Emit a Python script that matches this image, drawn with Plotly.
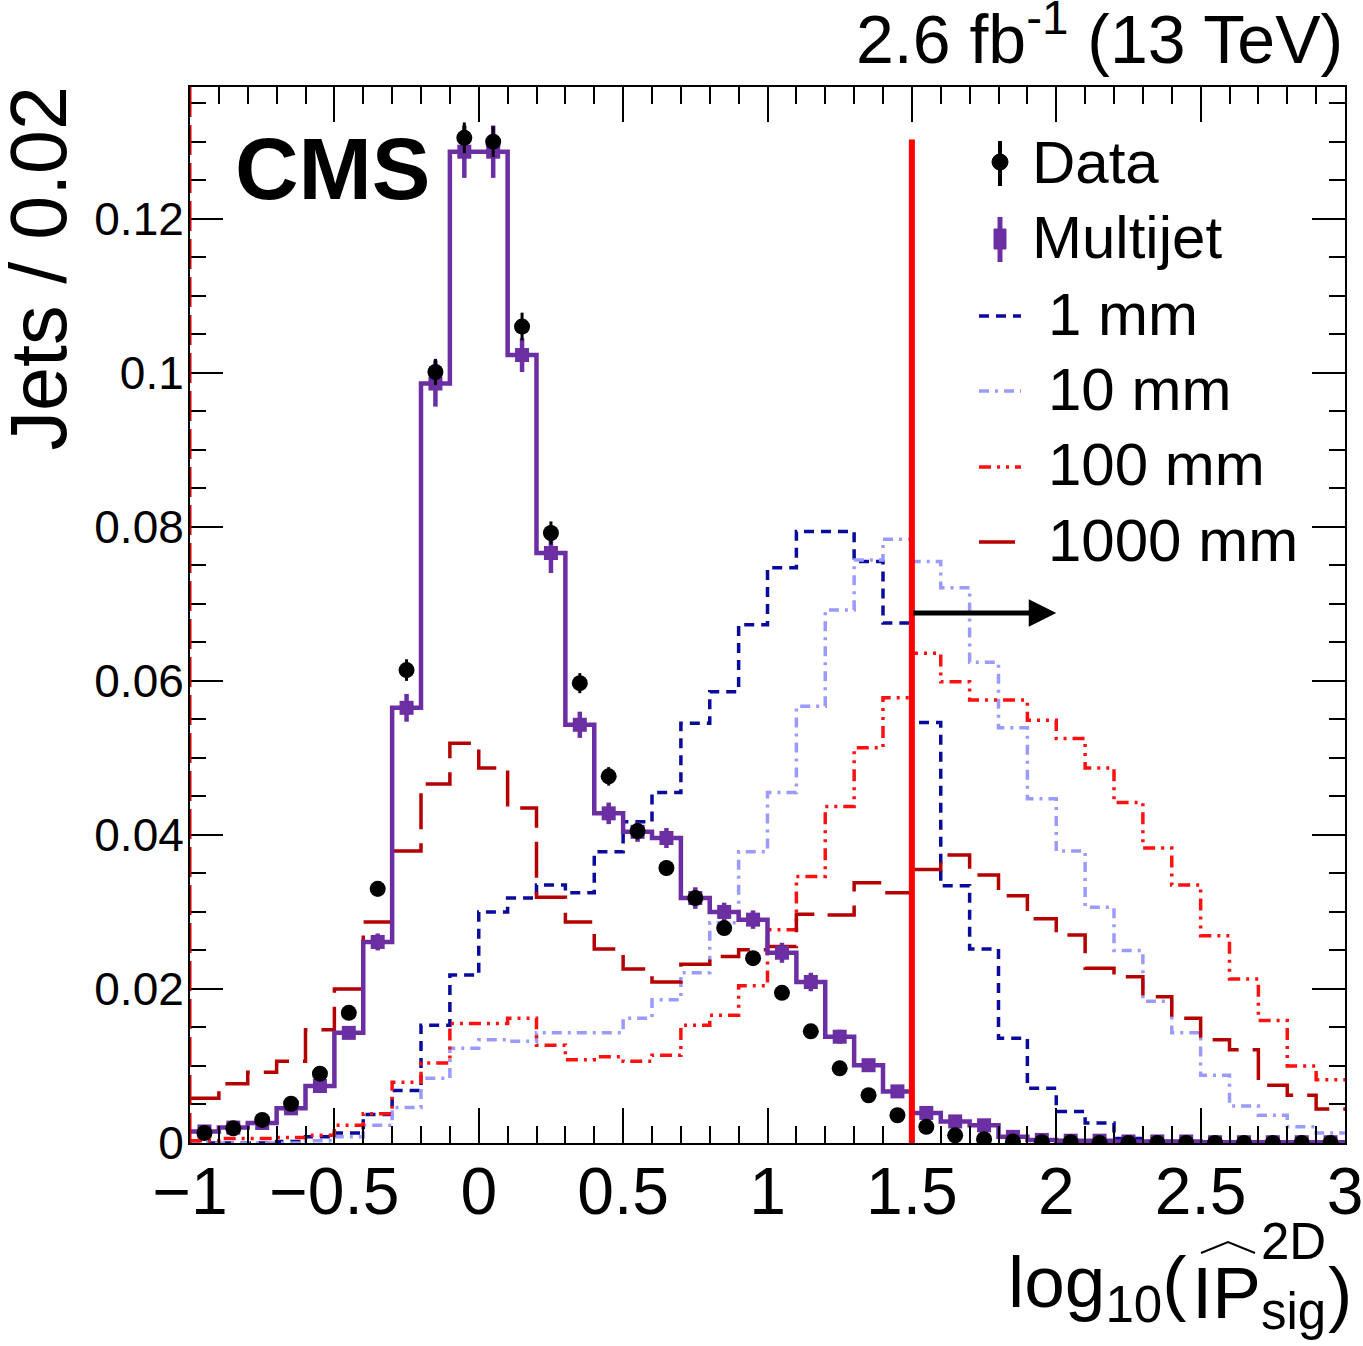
import plotly.graph_objects as go

# ---------------- data ----------------
bin_edges = [round(-1 + 0.1 * i, 1) for i in range(41)]
bin_centers = [round(-0.95 + 0.1 * i, 2) for i in range(40)]

data_vals = [0.0013, 0.0019, 0.0030, 0.0051, 0.0090, 0.0169, 0.0330, 0.0614, 0.1001, 0.1305,
             0.1300, 0.1060, 0.0792, 0.0597, 0.0476, 0.0405, 0.0357, 0.0318, 0.0279, 0.0240,
             0.0195, 0.0145, 0.0097, 0.0062, 0.0036, 0.0021, 0.0010, 0.0005, 0.0002, 0.0001,
             0.0001, 0.0, 0.0, 0.0, 0.0, 0.0, 0.0, 0.0, 0.0, 0.0]
data_err = [0.0003, 0.0003, 0.0004, 0.0005, 0.0006, 0.0008, 0.0010, 0.0014, 0.0017, 0.0020,
            0.0020, 0.0018, 0.0015, 0.0013, 0.0012, 0.0011, 0.0010, 0.0009, 0.0009, 0.0008,
            0.0007, 0.0006, 0.0005, 0.0004, 0.0003, 0.0002, 0.0002, 0.0001, 0.0001, 0.0001,
            0.0001, 0.0, 0.0, 0.0, 0.0, 0.0, 0.0, 0.0, 0.0, 0.0]

multijet_vals = [0.0015, 0.0020, 0.0026, 0.0045, 0.0074, 0.0143, 0.0261, 0.0565, 0.0986, 0.1287,
                 0.1287, 0.1023, 0.0766, 0.0543, 0.0428, 0.0404, 0.0396, 0.0318, 0.0300, 0.0290,
                 0.0247, 0.0209, 0.0138, 0.0101, 0.0067, 0.0039, 0.0028, 0.0023, 0.0008, 0.0004,
                 0.0003, 0.0003, 0.0002, 0.0002, 0.0002, 0.0001, 0.0001, 0.0001, 0.0001, 0.0001]
multijet_err = [0.0003, 0.0003, 0.0004, 0.0005, 0.0006, 0.0008, 0.0011, 0.0018, 0.0030, 0.0034,
                0.0034, 0.0022, 0.0026, 0.0017, 0.0014, 0.0013, 0.0013, 0.0014, 0.0012, 0.0012,
                0.0013, 0.0012, 0.0009, 0.0008, 0.0006, 0.0005, 0.0004, 0.0003, 0.0002, 0.0001,
                0.0001, 0.0001, 0.0001, 0.0001, 0.0001, 0.0001, 0.0001, 0.0001, 0.0001, 0.0001]

mm1_vals = [0.0, 0.0, 0.0, 0.0002, 0.0008, 0.0013, 0.0037, 0.0068, 0.0153, 0.0218,
            0.0300, 0.0318, 0.0335, 0.0325, 0.0378, 0.0417, 0.0455, 0.0545, 0.0586, 0.0673,
            0.0747, 0.0794, 0.0794, 0.0755, 0.0675, 0.0546, 0.0334, 0.0252, 0.0136, 0.0071,
            0.0041, 0.0026, 0.0006, 0.0002, 0.0001, 0.0, 0.0, 0.0, 0.0, 0.0]
mm10_vals = [0.0, 0.0, 0.0, 0.0, 0.0003, 0.0008, 0.0023, 0.0046, 0.0084, 0.0123,
             0.0134, 0.0132, 0.0143, 0.0143, 0.0143, 0.0162, 0.0186, 0.0221, 0.0286, 0.0378,
             0.0455, 0.0567, 0.0692, 0.0757, 0.0784, 0.0755, 0.0721, 0.0624, 0.0539, 0.0447,
             0.0379, 0.0306, 0.0250, 0.0184, 0.0143, 0.0088, 0.0048, 0.0036, 0.0021, 0.0013]
mm100_vals = [0.0003, 0.0006, 0.0006, 0.0007, 0.0010, 0.0023, 0.0038, 0.0079, 0.0104, 0.0155,
              0.0155, 0.0162, 0.0127, 0.0108, 0.0112, 0.0106, 0.0114, 0.0153, 0.0166, 0.0204,
              0.0277, 0.0346, 0.0437, 0.0513, 0.0578, 0.0636, 0.0599, 0.0575, 0.0575, 0.0549,
              0.0525, 0.0487, 0.0442, 0.0383, 0.0335, 0.0269, 0.0213, 0.0159, 0.0100, 0.0082]
mm1000_vals = [0.0058, 0.0077, 0.0092, 0.0106, 0.0147, 0.0200, 0.0287, 0.0379, 0.0466, 0.0519,
               0.0487, 0.0435, 0.0319, 0.0287, 0.0252, 0.0226, 0.0209, 0.0232, 0.0242, 0.0251,
               0.0255, 0.0297, 0.0296, 0.0338, 0.0325, 0.0355, 0.0374, 0.0348, 0.0321, 0.0291,
               0.0270, 0.0227, 0.0216, 0.0190, 0.0162, 0.0134, 0.0121, 0.0075, 0.0062, 0.0044]

x_tickvals = [-1, -0.5, 0, 0.5, 1, 1.5, 2, 2.5, 3]
x_ticktext = ["\u22121", "\u22120.5", "0", "0.5", "1", "1.5", "2", "2.5", "3"]
y_tickvals = [0, 0.02, 0.04, 0.06, 0.08, 0.1, 0.12]
y_ticktext = ["0", "0.02", "0.04", "0.06", "0.08", "0.1", "0.12"]

legend_labels = ["Data", "Multijet", "1 mm", "10 mm", "100 mm", "1000 mm"]

cut_x = 1.5
cut_top = 0.1303
arrow_y = 0.0688
arrow_end_x = 2.0

# ---------------- figure ----------------
FONT = "Liberation Sans, Arial, Helvetica, sans-serif"
PURPLE = "#6c2ea3"
C_1MM, C_10MM, C_100MM, C_1000MM = "#0a0a9c", "#9a9aff", "#ff1010", "#b40000"
D_1MM, D_10MM, D_100MM, D_1000MM = "10px,7px", "10px,6px,3px,6px", "12px,6px,3px,6px,3px,6px", "36px,14px"

W, H = 1363, 1346
L, R, T, B = 190, 18, 87, 203
PW, PH = W - L - R, H - T - B


def pxx(px):
    return (px - L) / PW


def pxy(py):
    return (H - B - py) / PH


def step(vals):
    return bin_edges, list(vals) + [vals[-1]]


fig = go.Figure()

signal_specs = [
    (legend_labels[2], mm1_vals, C_1MM, D_1MM),
    (legend_labels[3], mm10_vals, C_10MM, D_10MM),
    (legend_labels[4], mm100_vals, C_100MM, D_100MM),
    (legend_labels[5], mm1000_vals, C_1000MM, D_1000MM),
]
for name, vals, color, dash in signal_specs:
    xs, ys = step(vals)
    fig.add_trace(go.Scatter(
        x=xs, y=ys, mode="lines", line=dict(shape="hv", color=color, dash=dash, width=3.5),
        name=name, hoverinfo="skip"))

xs, ys = step(multijet_vals)
fig.add_trace(go.Scatter(x=xs, y=ys, mode="lines", line=dict(shape="hv", color=PURPLE, width=4.5),
                         name="Multijet hist", hoverinfo="skip"))
fig.add_trace(go.Scatter(
    x=bin_centers, y=multijet_vals, mode="markers", name=legend_labels[1],
    marker=dict(symbol="square", size=14, color=PURPLE),
    error_y=dict(type="data", array=multijet_err, color=PURPLE, thickness=4.5, width=0)))

fig.add_trace(go.Scatter(
    x=bin_centers, y=data_vals, mode="markers", name=legend_labels[0],
    marker=dict(symbol="circle", size=16, color="black"),
    error_y=dict(type="data", array=data_err, color="black", thickness=3, width=0)))

# cut line and arrow
fig.add_shape(type="line", x0=cut_x, x1=cut_x, y0=0, y1=cut_top, xref="x", yref="y",
              line=dict(color="#ff0000", width=6), layer="above")
fig.add_shape(type="line", x0=-1, x1=-1, y0=0, y1=1, xref="x", yref="paper",
              line=dict(color="#d00000", width=3, dash="30px,8px"), layer="above")
fig.add_annotation(x=arrow_end_x, y=arrow_y, ax=cut_x, ay=arrow_y, xref="x", yref="y",
                   axref="x", ayref="y", text="", showarrow=True, arrowhead=2,
                   arrowsize=1.1, arrowwidth=5, arrowcolor="black")

# ---------------- manual legend ----------------
leg_font = dict(family=FONT, size=60, color="black")
leg_rows_y = [162, 238, 314, 389, 465, 540]
leg_text_x = [1030, 1030, 1046, 1046, 1046, 1046]
for lab, yy, tx in zip(legend_labels, leg_rows_y, leg_text_x):
    fig.add_annotation(x=pxx(tx), y=pxy(yy), xref="paper", yref="paper", xanchor="left",
                       yanchor="middle", showarrow=False, text=lab, font=leg_font)
# Data symbol
fig.add_shape(type="line", xref="paper", yref="paper", x0=pxx(1000), x1=pxx(1000),
              y0=pxy(141), y1=pxy(186), line=dict(color="black", width=4))
fig.add_shape(type="circle", xref="paper", yref="paper", x0=pxx(992), x1=pxx(1008),
              y0=pxy(154), y1=pxy(170), fillcolor="black", line=dict(color="black", width=1))
# Multijet symbol
fig.add_shape(type="line", xref="paper", yref="paper", x0=pxx(1000), x1=pxx(1000),
              y0=pxy(217), y1=pxy(262), line=dict(color=PURPLE, width=5))
fig.add_shape(type="rect", xref="paper", yref="paper", x0=pxx(994), x1=pxx(1006),
              y0=pxy(229), y1=pxy(249), fillcolor=PURPLE, line=dict(color=PURPLE, width=1))
# line samples
for yy, color, dash in zip(leg_rows_y[2:], [C_1MM, C_10MM, C_100MM, C_1000MM],
                           [D_1MM, D_10MM, D_100MM, D_1000MM]):
    fig.add_shape(type="line", xref="paper", yref="paper", x0=pxx(979), x1=pxx(1021),
                  y0=pxy(yy + 2), y1=pxy(yy + 2), line=dict(color=color, width=3.5, dash=dash))

# ---------------- texts ----------------
fig.add_annotation(x=pxx(233), y=pxy(220), xref="paper", yref="paper",
                   xanchor="left", yanchor="bottom", showarrow=False,
                   text="<b>CMS</b>", font=dict(family=FONT, size=88, color="black"))
fig.add_annotation(x=1.0, y=pxy(79), xref="paper", yref="paper",
                   xanchor="right", yanchor="bottom", showarrow=False,
                   text="2.6 fb<sup>-1</sup> (13 TeV)", font=dict(family=FONT, size=68, color="black"))
fig.add_annotation(x=pxx(38), y=pxy(84), xref="paper", yref="paper",
                   xanchor="center", yanchor="top", showarrow=False, textangle=-90,
                   text="Jets / 0.02", font=dict(family=FONT, size=79, color="black"))

# x axis title (assembled)
xt_font = dict(family=FONT, size=73, color="black")
xs_font = dict(family=FONT, size=51, color="black")
fig.add_annotation(x=pxx(1189), y=pxy(1335), xref="paper", yref="paper",
                   xanchor="right", yanchor="bottom", showarrow=False,
                   text="log<sub>10</sub>(", font=xt_font)
fig.add_annotation(x=pxx(1190), y=pxy(1335), xref="paper", yref="paper",
                   xanchor="left", yanchor="bottom", showarrow=False,
                   text="IP", font=xt_font)
fig.add_annotation(x=pxx(1259), y=pxy(1272), xref="paper", yref="paper",
                   xanchor="left", yanchor="bottom", showarrow=False,
                   text="2D", font=xs_font)
fig.add_annotation(x=pxx(1259), y=pxy(1342), xref="paper", yref="paper",
                   xanchor="left", yanchor="bottom", showarrow=False,
                   text="sig", font=xs_font)
fig.add_annotation(x=pxx(1326), y=pxy(1335), xref="paper", yref="paper",
                   xanchor="left", yanchor="bottom", showarrow=False,
                   text=")", font=xt_font)
fig.add_shape(type="path", xref="paper", yref="paper",
              path=f"M {pxx(1201)} {pxy(1253)} L {pxx(1228)} {pxy(1242)} L {pxx(1255)} {pxy(1253)}",
              line=dict(color="black", width=2))

fig.update_layout(
    width=W, height=H, autosize=False,
    margin=dict(l=L, r=R, t=T, b=B, pad=0, autoexpand=False),
    paper_bgcolor="white", plot_bgcolor="white",
    showlegend=False,
    font=dict(family=FONT, color="black"),
)

fig.update_xaxes(
    range=[-1, 3], showgrid=False, zeroline=False,
    showline=True, linecolor="black", linewidth=2, mirror="allticks",
    ticks="inside", ticklen=35, tickwidth=2, tickcolor="black",
    tickvals=x_tickvals, ticktext=x_ticktext, ticklabelstandoff=-10,
    ticklabeloverflow="allow",
    tickfont=dict(family=FONT, size=66, color="black"),
    minor=dict(dtick=0.1, tick0=-1, ticks="inside", ticklen=17, tickwidth=2, tickcolor="black"),
)
fig.update_yaxes(
    range=[0, 0.1371], showgrid=False, zeroline=False,
    showline=True, linecolor="black", linewidth=2, mirror="allticks",
    ticks="inside", ticklen=33, tickwidth=2, tickcolor="black",
    tickvals=y_tickvals, ticktext=y_ticktext, ticklabelstandoff=-5,
    ticklabeloverflow="allow",
    tickfont=dict(family=FONT, size=46, color="black"),
    minor=dict(dtick=0.005, tick0=0, ticks="inside", ticklen=16, tickwidth=2, tickcolor="black"),
)

fig.write_html(
    "out.html",
    config={"displayModeBar": False},
    post_script="document.body.style.margin='0px';document.body.style.overflow='hidden';",
)
